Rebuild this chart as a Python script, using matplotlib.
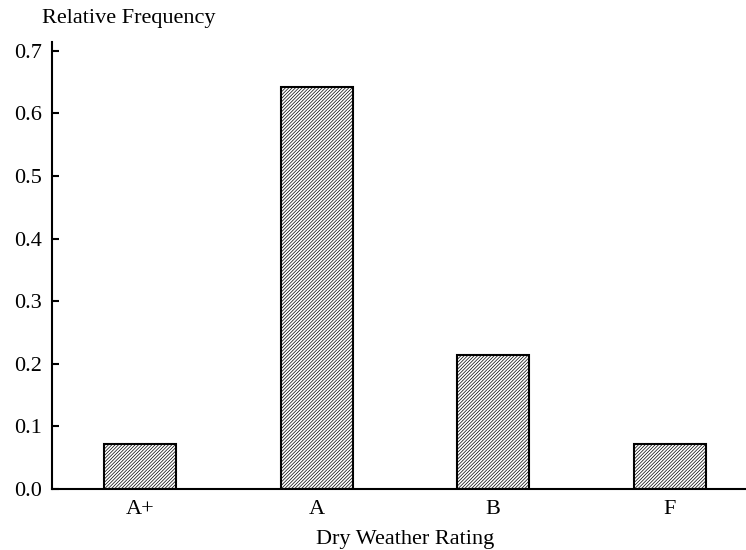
import matplotlib
matplotlib.use("Agg")
import matplotlib.pyplot as plt

categories = ["A+", "A", "B", "F"]
rel_freq = [0.0714, 0.6429, 0.2143, 0.0714]
yticks = [0.0, 0.1, 0.2, 0.3, 0.4, 0.5, 0.6, 0.7]

plt.rcParams['font.family'] = ['Liberation Serif', 'DejaVu Serif']
plt.rcParams['hatch.color'] = '#666666'
plt.rcParams['hatch.linewidth'] = 0.5

fig = plt.figure(figsize=(7.46, 5.5), dpi=100)
ax = fig.add_axes([0.0697, 0.111, 1.016 - 0.0697, 0.9236 - 0.111])

x = list(range(len(categories)))
ax.bar(x, rel_freq, width=0.41, color='white', edgecolor='black',
       linewidth=1.5, hatch='//////////')

ax.set_xlim(-0.5, 3.5)
ax.set_ylim(0, 0.714)
ax.set_xticks(x)
ax.set_xticklabels(categories)
ax.set_yticks(yticks)
ax.set_yticklabels([f"{v:.1f}" for v in yticks])
ax.tick_params(axis='x', length=0, labelsize=16, pad=8)
ax.tick_params(axis='y', direction='in', length=5, width=1.5, labelsize=16, pad=7)

for s in ['top', 'right']:
    ax.spines[s].set_visible(False)
for s in ['left', 'bottom']:
    ax.spines[s].set_linewidth(1.5)

ax.set_xlabel("Dry Weather Rating", fontsize=16, labelpad=8)
fig.text(42 / 746, 1 - 18 / 550, "Relative Frequency", fontsize=16,
         ha='left', va='center')

fig.savefig("out.png", dpi=100)
